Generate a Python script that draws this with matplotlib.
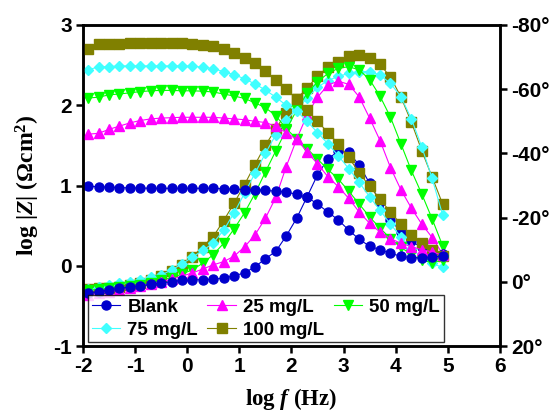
import numpy as np
import matplotlib
matplotlib.use("Agg")
import matplotlib.pyplot as plt

plt.rcParams['font.family'] = ['Liberation Sans', 'DejaVu Sans']
plt.rcParams['font.weight'] = 'bold'
plt.rcParams['axes.unicode_minus'] = False
plt.rcParams['mathtext.fontset'] = 'custom'
plt.rcParams['mathtext.rm'] = 'Liberation Serif:bold'
plt.rcParams['mathtext.it'] = 'Liberation Serif:italic:bold'
plt.rcParams['mathtext.bf'] = 'Liberation Serif:bold'

# log frequency grid (Hz)
logf = [-1.9, -1.7, -1.5, -1.3, -1.1, -0.9, -0.7, -0.5, -0.3, -0.1,
        0.1, 0.3, 0.5, 0.7, 0.9, 1.1, 1.3, 1.5, 1.7, 1.9,
        2.1, 2.3, 2.5, 2.7, 2.9, 3.1, 3.3, 3.5, 3.7, 3.9,
        4.1, 4.3, 4.5, 4.7, 4.9]

labels = ['Blank', '25 mg/L', '50 mg/L', '75 mg/L', '100 mg/L']

# log |Z|
z_blank = [0.99, 0.985, 0.98, 0.975, 0.97, 0.97, 0.965, 0.965, 0.965, 0.965,
           0.965, 0.965, 0.965, 0.96, 0.955, 0.95, 0.945, 0.94, 0.93, 0.92,
           0.89, 0.855, 0.77, 0.67, 0.57, 0.445, 0.33, 0.245, 0.20, 0.155,
           0.12, 0.10, 0.10, 0.11, 0.12]
z_25 = [1.64, 1.65, 1.70, 1.74, 1.78, 1.81, 1.83, 1.84, 1.845, 1.85,
        1.85, 1.85, 1.85, 1.84, 1.83, 1.82, 1.80, 1.785, 1.74, 1.66,
        1.575, 1.42, 1.27, 1.11, 0.985, 0.84, 0.67, 0.53, 0.42, 0.34,
        0.28, 0.24, 0.20, 0.175, 0.13]
z_50 = [2.09, 2.10, 2.13, 2.14, 2.155, 2.17, 2.18, 2.185, 2.185, 2.18,
        2.18, 2.175, 2.165, 2.14, 2.115, 2.085, 2.03, 1.97, 1.87, 1.71,
        1.58, 1.46, 1.33, 1.20, 1.08, 0.93, 0.77, 0.61, 0.47, 0.34,
        0.23, 0.14, 0.07, 0.04, 0.07]
z_75 = [2.44, 2.48, 2.48, 2.49, 2.49, 2.49, 2.49, 2.49, 2.49, 2.49,
        2.485, 2.475, 2.455, 2.42, 2.38, 2.33, 2.265, 2.19, 2.10, 2.0,
        1.93, 1.80, 1.66, 1.52, 1.37, 1.21, 1.04, 0.86, 0.69, 0.52,
        0.36, 0.21, 0.11, 0.03, -0.02]
z_100 = [2.70, 2.76, 2.765, 2.765, 2.77, 2.78, 2.78, 2.78, 2.775, 2.77,
         2.765, 2.75, 2.735, 2.70, 2.65, 2.585, 2.52, 2.43, 2.315, 2.20,
         2.08, 1.94, 1.80, 1.66, 1.52, 1.35, 1.16, 0.99, 0.83, 0.67,
         0.52, 0.38, 0.28, 0.20, 0.12]

# phase angle (deg)
p_blank = [3.5, 3.0, 2.5, 2.0, 1.6, 1.2, 0.8, 0.4, -0.1, -0.5,
           -0.6, -0.7, -0.8, -1.2, -1.9, -2.8, -4.7, -7.2, -9.5, -14.3,
           -19.8, -26.5, -33.3, -38.3, -40.7, -40.3, -36.4, -30.7, -25.0, -19.3,
           -15.6, -12.6, -10.8, -9.3, -8.6]
p_25 = [4.0, 3.6, 3.1, 2.6, 1.9, 1.2, 0.6, -0.1, -0.8, -1.8,
        -2.8, -4.0, -5.3, -6.3, -8.0, -10.9, -14.6, -19.8, -26.3, -35.9,
        -44.4, -52.0, -57.5, -61.3, -62.5, -61.5, -57.6, -51.0, -44.0, -35.6,
        -28.7, -23.0, -18.0, -13.8, -8.7]
p_50 = [2.6, 2.3, 2.0, 1.7, 1.3, 0.9, 0.3, -0.6, -1.3, -2.4,
        -3.8, -5.8, -8.5, -12.0, -16.5, -21.5, -27.5, -34.2, -40.8, -47.3,
        -53.5, -58.7, -62.3, -64.9, -66.5, -67.0, -66.0, -63.0, -57.8, -51.3,
        -43.0, -34.7, -27.4, -19.6, -11.3]
p_75 = [2.3, 1.7, 1.0, 0.5, 0.0, -0.6, -1.4, -2.1, -3.7, -5.6,
        -7.7, -9.8, -12.1, -16.1, -21.5, -27.6, -33.8, -40.0, -45.8, -50.4,
        -53.7, -57.2, -60.6, -62.7, -64.0, -64.9, -65.5, -65.5, -64.4, -61.8,
        -57.7, -50.8, -42.1, -32.2, -20.9]
p_100 = [2.2, 2.0, 1.8, 1.5, 1.0, 0.4, -0.6, -1.9, -3.3, -5.3,
         -7.8, -11.0, -14.1, -19.1, -24.5, -30.3, -36.5, -42.5, -47.7, -52.6,
         -56.9, -60.4, -64.0, -67.0, -68.5, -70.3, -70.8, -69.8, -67.7, -63.8,
         -57.6, -49.8, -40.9, -32.6, -24.3]

xticks = [-2, -1, 0, 1, 2, 3, 4, 5, 6]
zticks = [-1, 0, 1, 2, 3]
pticks = [20, 0, -20, -40, -60, -80]
pticklabels = ['20°', '0°', '-20°', '-40°', '-60°', '-80°']

zs = [z_blank, z_25, z_50, z_75, z_100]
ps = [p_blank, p_25, p_50, p_75, p_100]
colors = ['#0000CC', '#FF00FF', '#00FF00', '#40FFFF', '#808000']
markers = ['o', '^', 'v', 'D', 's']
msizes = [6.5, 7, 7, 5.5, 6.5]

fig = plt.figure(figsize=(5.53, 4.16), dpi=100)
ax = fig.add_axes([0.150, 0.168, 0.754, 0.772])
ax2 = ax.twinx()

handles = [None] * 5
for i in reversed(range(5)):
    h, = ax.plot(logf, zs[i], color=colors[i], marker=markers[i], ms=msizes[i],
                 lw=0.8, label=labels[i])
    handles[i] = h
    ax2.plot(logf, ps[i], color=colors[i], marker=markers[i], ms=msizes[i], lw=0.8)

ax.set_xlim(-2, 6)
ax.set_ylim(-1, 3)
ax2.set_ylim(20, -80)
tfont = {'size': 15, 'weight': 'bold', 'family': 'Liberation Sans'}
ax.set_xticks(xticks, [str(t) for t in xticks], fontdict=tfont)
ax.set_yticks(zticks, [str(t) for t in zticks], fontdict=tfont)
ax2.set_yticks(pticks, pticklabels, fontdict=tfont)

for a in (ax, ax2):
    for s in a.spines.values():
        s.set_linewidth(1.8)
    a.tick_params(width=1.8, length=5, direction='out', pad=3)
ax.tick_params(top=False, right=False)
ax2.tick_params(left=False)

ax.set_xlabel(r'log $f$ (Hz)', fontsize=16.5, labelpad=7,
              fontfamily='Liberation Serif', fontweight='bold')
ax.set_ylabel(r'log |$Z$| ($\Omega$cm$^{2}$)', fontsize=17, labelpad=8,
              fontfamily='Liberation Serif', fontweight='bold')

# row-wise legend order: Blank, 25, 50 / 75, 100
order = [0, 3, 1, 4, 2]
leg = ax.legend(handles=[handles[i] for i in order],
                labels=[labels[i] for i in order],
                loc='lower left', bbox_to_anchor=(0.012, 0.012),
                ncol=3, prop={'size': 13.5, 'weight': 'bold', 'family': 'Liberation Sans'},
                frameon=True, fancybox=False,
                handlelength=1.5, handletextpad=0.4, columnspacing=0.5,
                borderpad=0.2, labelspacing=0.3, borderaxespad=0.0)
leg.get_frame().set_edgecolor('black')
leg.get_frame().set_linewidth(1.0)
leg.set_zorder(10)
ax.set_zorder(ax2.get_zorder() + 1)
ax.patch.set_visible(False)

fig.savefig('out.png', dpi=100)
